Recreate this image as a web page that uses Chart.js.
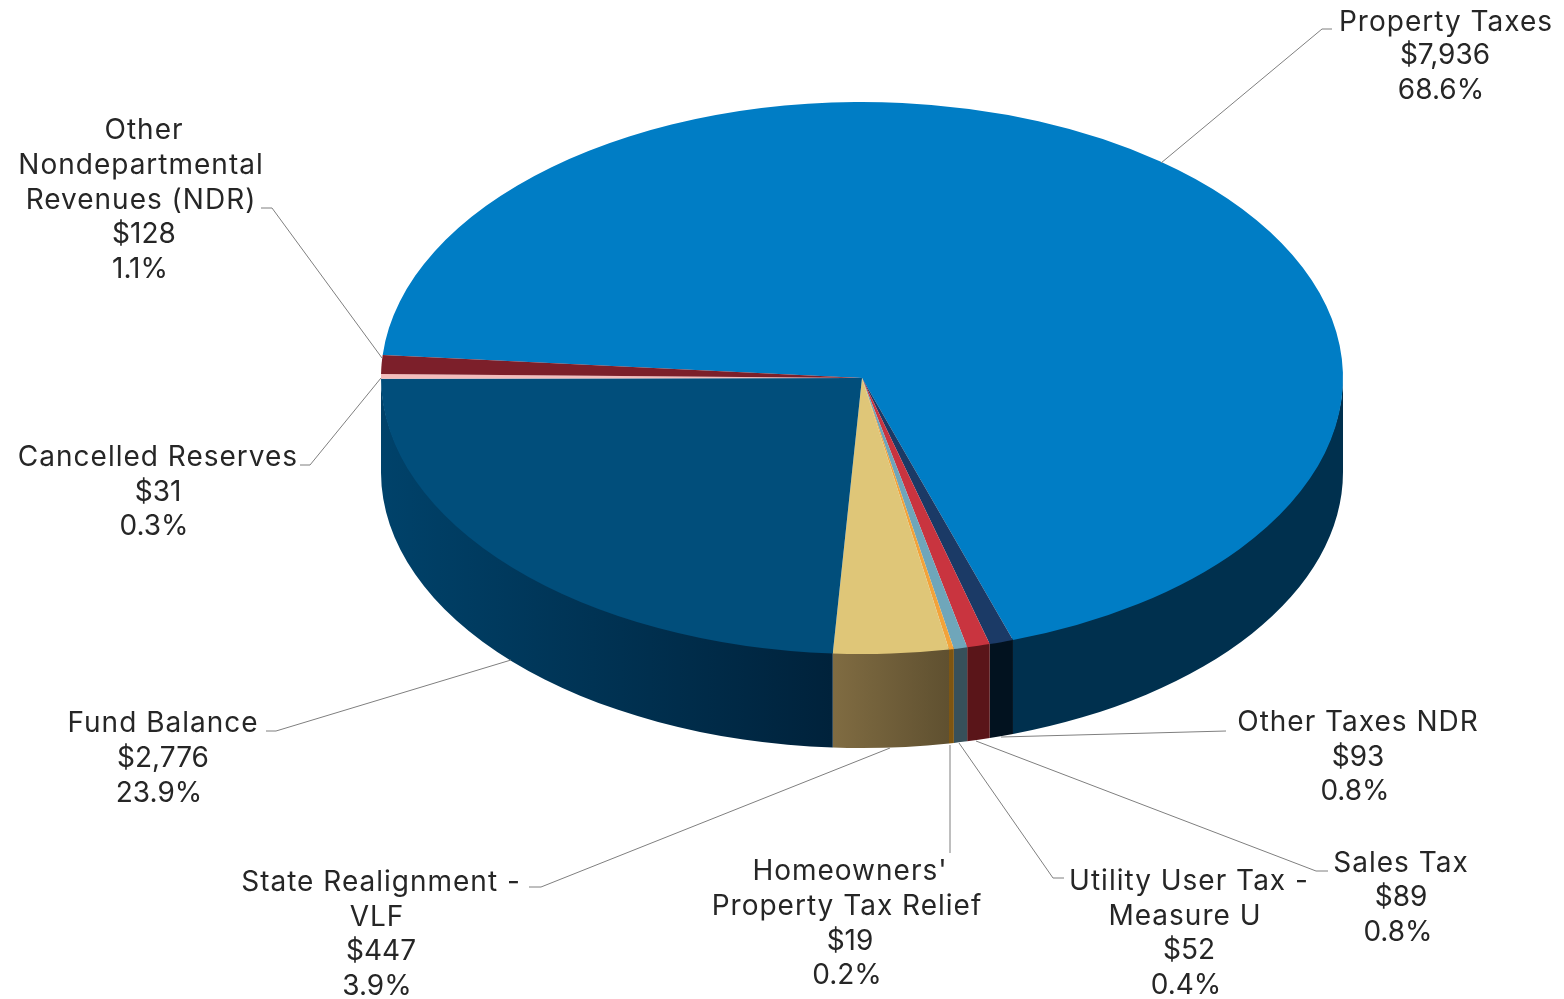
<!DOCTYPE html>
<html>
<head>
<meta charset="utf-8">
<style>
html, body { margin: 0; padding: 0; background: #fff; }
#wrap { width: 1564px; height: 999px; position: relative; }
</style>
</head>
<body>
<div id="wrap"><canvas id="chart" width="1564" height="999"></canvas></div>
<script src="https://cdn.jsdelivr.net/npm/chart.js@4/dist/chart.umd.min.js"></script>
<script>
const categories = ['Property Taxes', 'Other Taxes NDR', 'Sales Tax', 'Utility User Tax - Measure U', "Homeowners' Property Tax Relief", 'State Realignment - VLF', 'Fund Balance', 'Cancelled Reserves', 'Other Nondepartmental Revenues (NDR)'];
const amounts = [7936, 93, 89, 52, 19, 447, 2776, 31, 128];
const amountLabels = ['$7,936', '$93', '$89', '$52', '$19', '$447', '$2,776', '$31', '$128'];
const percentLabels = ['68.6%', '0.8%', '0.8%', '0.4%', '0.2%', '3.9%', '23.9%', '0.3%', '1.1%'];
const topColors = ['#007dc5', '#1b3a66', '#c9343f', '#6fa6ba', '#f2a33a', '#dfc678', '#014e7b', '#f4bcbc', '#7c1f2a'];
const sideLeft = ['#00304e', '#02121f', '#5a1519', '#37505a', '#7c5512', '#806c42', '#00426a', '#6a4a46', '#3a0c12'];
const sideRight = ['#00304e', '#02121f', '#5a1519', '#37505a', '#7c5512', '#5f5030', '#00223b', '#6a4a46', '#3a0c12'];

// label placement: line box centres and leader polyline per category
const layout = [
  { lines: [[categories[0], 1446, 21], [amountLabels[0], 1445, 54], [percentLabels[0], 1441, 89]], leader: [[1161, 163], [1322, 29], [1332, 29]] },
  { lines: [[categories[1], 1358, 721], [amountLabels[1], 1358, 756], [percentLabels[1], 1355, 790]], leader: [[1001, 737], [1226, 731]] },
  { lines: [[categories[2], 1401, 862], [amountLabels[2], 1401, 896], [percentLabels[2], 1398, 931]], leader: [[976, 741], [1316, 871], [1328, 871]] },
  { lines: [['Utility User Tax -', 1189, 880], ['Measure U', 1185, 915], [amountLabels[3], 1189, 949], [percentLabels[3], 1186, 984]], leader: [[959, 743], [1053, 878], [1064, 878]] },
  { lines: [["Homeowners'", 850, 870], ['Property Tax Relief', 847, 905], [amountLabels[4], 850, 940], [percentLabels[4], 847, 974]], leader: [[950, 745], [950, 853]] },
  { lines: [['State Realignment -', 381, 881], ['VLF', 377, 916], [amountLabels[5], 381, 950], [percentLabels[5], 377, 985]], leader: [[890, 748], [541, 887], [529, 887]] },
  { lines: [[categories[6], 163, 722], [amountLabels[6], 163, 757], [percentLabels[6], 159, 792]], leader: [[511, 660], [276, 731], [266, 731]] },
  { lines: [[categories[7], 158, 456], [amountLabels[7], 158, 491], [percentLabels[7], 154, 525]], leader: [[381, 378], [310, 465], [300, 465]] },
  { lines: [['Other', 144, 129], ['Nondepartmental', 141, 164], ['Revenues (NDR)', 141, 199], [amountLabels[8], 144, 233], [percentLabels[8], 140, 268]], leader: [[382, 358], [272, 208], [261, 208]] }
];

const centerX = 862;
const centerY = 378;
const radiusX = 481;
const radiusY = 276;
const depth = 94;
const squash = radiusY / radiusX;

// draws side wall before the pie, and squashes the pie itself into an ellipse
const tiltPlugin = {
  id: 'tilt',
  beforeDatasetsDraw(chart) {
    const ctx = chart.ctx;
    const arcs = chart.getDatasetMeta(0).data;
    arcs.forEach((arc, i) => {
      const a0 = arc.startAngle;
      const a1 = arc.endAngle;
      // only front half of rim is visible
      const segs = [[a0, a1], [a0 - 2 * Math.PI, a1 - 2 * Math.PI], [a0 + 2 * Math.PI, a1 + 2 * Math.PI]];
      segs.forEach(([s, e]) => {
        const from = Math.max(s, 0);
        const to = Math.min(e, Math.PI);
        if (to <= from) return;
        const x0 = centerX + radiusX * Math.cos(to);
        const x1 = centerX + radiusX * Math.cos(from);
        const grad = ctx.createLinearGradient(x0, 0, x1, 0);
        grad.addColorStop(0, sideLeft[i]);
        grad.addColorStop(1, sideRight[i]);
        ctx.save();
        ctx.fillStyle = grad;
        ctx.beginPath();
        // top edge starts a little higher so the disc overlaps it, no light seam
        ctx.ellipse(centerX, centerY - 2, radiusX, radiusY, 0, from, to);
        ctx.ellipse(centerX, centerY + depth, radiusX, radiusY, 0, to, from, true);
        ctx.closePath();
        ctx.fill();
        ctx.restore();
      });
    });
    ctx.save();
    ctx.translate(0, centerY);
    ctx.scale(1, squash);
    ctx.translate(centerX - arcs[0].x, -arcs[0].y);
  },
  afterDatasetsDraw(chart) {
    chart.ctx.restore();
  }
};

const calloutPlugin = {
  id: 'callouts',
  afterDraw(chart) {
    const ctx = chart.ctx;
    ctx.save();
    ctx.strokeStyle = '#7f7f7f';
    ctx.lineWidth = 1;
    layout.forEach((item) => {
      ctx.beginPath();
      item.leader.forEach(([x, y], k) => (k ? ctx.lineTo(x, y) : ctx.moveTo(x, y)));
      ctx.stroke();
    });
    ctx.fillStyle = '#262626';
    ctx.font = '400 28px "Inter", sans-serif';
    ctx.textAlign = 'center';
    ctx.textBaseline = 'middle';
    layout.forEach((item) => {
      item.lines.forEach(([t, x, y]) => {
        // numbers in the reference are tighter than the words
        ctx.letterSpacing = /^[$0-9]/.test(t) ? '0px' : '1px';
        ctx.fillText(t, x, y + 2);
      });
    });
    ctx.restore();
  }
};

new Chart(document.getElementById('chart'), {
  type: 'pie',
  data: {
    labels: categories,
    datasets: [{
      data: amounts,
      backgroundColor: topColors,
      borderWidth: 0
    }]
  },
  options: {
    responsive: false,
    animation: false,
    rotation: 274.8,
    // radius is set so the circle matches the ellipse's wide axis
    radius: radiusX,
    layout: { padding: { left: centerX - radiusX, top: centerY - radiusX, right: 1564 - centerX - radiusX, bottom: 999 - centerY - radiusX } },
    plugins: {
      legend: { display: false },
      tooltip: { enabled: false }
    }
  },
  plugins: [tiltPlugin, calloutPlugin]
});
</script>
</body>
</html>
